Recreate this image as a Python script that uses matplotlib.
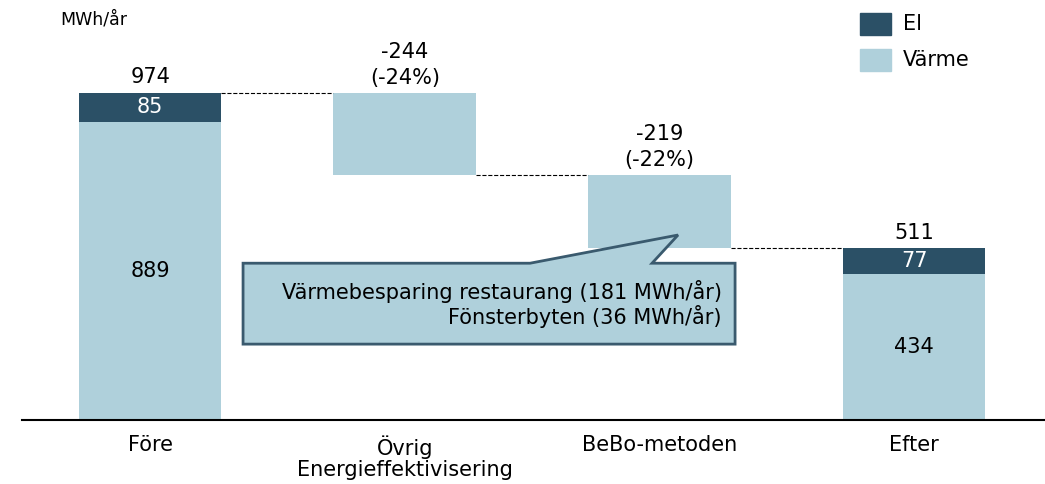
import numpy as np
import matplotlib.pyplot as plt
from matplotlib.patches import Polygon, Rectangle

# data
categories = ["Före", "Övrig\nEnergieffektivisering", "BeBo-metoden", "Efter"]
el = [85, 77]          # Före, Efter
varme = [889, 434]     # Före, Efter
savings = [-244, -219]
savings_pct = [-24, -22]
legend_labels = ["El", "Värme"]

dark = "#2b5066"
light = "#afd0db"
fs = 15

plt.rcParams['font.family'] = ['DejaVu Sans']
fig = plt.figure(figsize=(10.45, 4.84), dpi=100)
ax = fig.add_axes([22/1045, 64/484, 1023/1045, 420/484])

x = np.arange(len(categories))
w = 0.56

# Före / Efter stacks
for i, (v, e) in zip([0, 3], zip(varme, el)):
    ax.bar(i, v, w, color=light)
    ax.bar(i, e, w, bottom=v, color=dark)
    ax.text(i, v / 2, str(v), ha="center", va="center", fontsize=fs, color="black")
    ax.text(i, v + e / 2, str(e), ha="center", va="center", fontsize=fs, color="white")
    ax.text(i, v + e + 17, str(v + e), ha="center", va="bottom", fontsize=fs)

# floating savings bars
level = varme[0] + el[0]
levels = [level]
for j, (s, p) in enumerate(zip(savings, savings_pct)):
    i = j + 1
    ax.bar(i, -s, w, bottom=level + s, color=light)
    ax.text(i, level + 15, f"{s}\n({p}%)", ha="center", va="bottom", fontsize=fs,
            linespacing=1.35)
    level = level + s
    levels.append(level)

# dashed connectors
for i in range(3):
    ax.plot([i + w / 2, i + 1 - w / 2], [levels[i], levels[i]], ls="--", color="black", lw=0.8)

# callout
box = [(0.365, 467), (1.492, 467), (2.073, 551), (1.971, 467), (2.297, 467),
       (2.297, 226), (0.365, 226)]
ax.add_patch(Polygon(box, closed=True, facecolor=light, edgecolor="#3a5a6e", lw=2, zorder=3))
ax.text(2.245, 346, "Värmebesparing restaurang (181 MWh/år)\nFönsterbyten (36 MWh/år)",
        ha="right", va="center", fontsize=fs, linespacing=1.1, zorder=4)

ax.set_xlim(-0.503, 3.514)
ax.set_ylim(0, 1251)
ax.set_xticks(x)
ax.set_xticklabels(categories, fontsize=fs, linespacing=1.05)
ax.tick_params(axis="x", length=0, pad=11)
ax.set_yticks([])
for s in ["top", "right", "left"]:
    ax.spines[s].set_visible(False)
ax.spines["bottom"].set_linewidth(1.5)

fig.text(60/1045, 1 - 20/484, "MWh/år", fontsize=12.5, va="center", ha="left")

# legend
for k, (lab, col) in enumerate(zip(legend_labels, [dark, light])):
    top = 13 + k * 36
    fig.add_artist(Rectangle((860/1045, 1 - (top + 22)/484), 31/1045, 22/484,
                             transform=fig.transFigure, color=col))
    fig.text(903/1045, 1 - (top + 11)/484, lab, fontsize=fs, va="center", ha="left")

fig.savefig("out.png", dpi=100)
